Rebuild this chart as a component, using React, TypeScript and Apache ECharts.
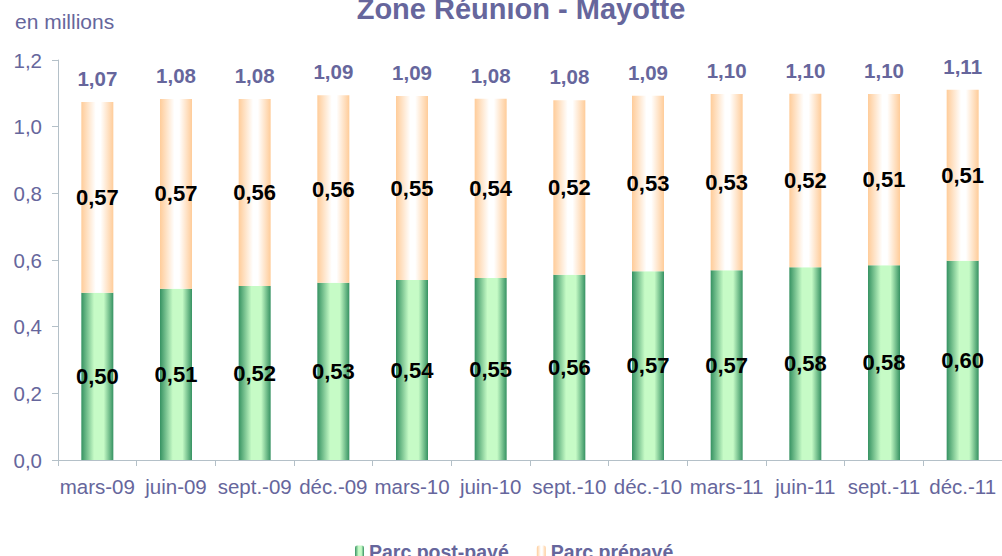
import React, { useEffect, useRef } from "react";
import * as echarts from "echarts";

const categories = ["mars-09", "juin-09", "sept.-09", "déc.-09", "mars-10", "juin-10", "sept.-10", "déc.-10", "mars-11", "juin-11", "sept.-11", "déc.-11"];
const postPaye = [0.502, 0.514, 0.522, 0.532, 0.54, 0.546, 0.556, 0.566, 0.569, 0.578, 0.584, 0.598];
const prepaye = [0.572, 0.569, 0.561, 0.562, 0.552, 0.538, 0.523, 0.527, 0.529, 0.521, 0.514, 0.513];
const yTicks = { min: 0, max: 1.2, interval: 0.2 };

const PURPLE = "#66669c";
const AXIS = "#b4c0c8";
const FONT = "Liberation Sans, Arial, sans-serif";

const fmt2 = (v: number) => (Math.round(v * 100) / 100).toFixed(2).replace(".", ",");

export default function App() {
  const ref = useRef<HTMLDivElement>(null);
  useEffect(() => {
    if (!ref.current) return;
    const chart = echarts.init(ref.current, undefined, { renderer: "svg" });
    const green = new echarts.graphic.LinearGradient(0, 0, 1, 0, [
      { offset: 0, color: "#369262" },
      { offset: 0.4, color: "#c6fbc6" },
      { offset: 0.7, color: "#c6fbc6" },
      { offset: 1, color: "#369262" },
    ]);
    const orange = new echarts.graphic.LinearGradient(0, 0, 1, 0, [
      { offset: 0, color: "#ffcc99" },
      { offset: 0.45, color: "#ffffff" },
      { offset: 0.6, color: "#ffffff" },
      { offset: 1, color: "#ffcc99" },
    ]);
    const inLabel = {
      show: true,
      position: "inside" as const,
      color: "#000",
      fontSize: 22,
      fontWeight: "bold" as const,
      fontFamily: FONT,
      formatter: (p: any) => fmt2(p.value),
    };
    chart.setOption({
      animation: false,
      textStyle: { fontFamily: FONT },
      grid: { left: 58, right: 0, top: 60, bottom: 96, containLabel: false },
      graphic: [
        {
          type: "text",
          left: 15,
          top: 11,
          style: { text: "en millions", fontSize: 21, fontFamily: FONT, fill: PURPLE },
        },
        {
          type: "text",
          x: 521,
          y: -6,
          style: {
            text: "Zone Réunion - Mayotte",
            fontSize: 29,
            fontWeight: "bold",
            fontFamily: FONT,
            fill: PURPLE,
            align: "center",
            verticalAlign: "top",
          },
        },
      ],
      legend: {
        data: ["Parc post-payé", "Parc prépayé"],
        top: 537,
        left: 350,
        itemWidth: 9,
        itemHeight: 13,
        itemGap: 28,
        textStyle: { fontSize: 19.5, fontWeight: "bold", color: PURPLE, fontFamily: FONT },
      },
      xAxis: {
        type: "category",
        data: categories,
        boundaryGap: true,
        axisLine: { lineStyle: { color: AXIS } },
        axisTick: { show: true, length: 6, lineStyle: { color: AXIS } },
        axisLabel: { interval: 0, fontSize: 20.5, color: PURPLE, margin: 16, fontFamily: FONT },
      },
      yAxis: {
        type: "value",
        min: yTicks.min,
        max: yTicks.max,
        interval: yTicks.interval,
        splitLine: { show: false },
        axisLine: { show: true, lineStyle: { color: AXIS } },
        axisTick: { show: true, length: 6, lineStyle: { color: AXIS } },
        axisLabel: {
          fontSize: 20.5,
          color: PURPLE,
          margin: 16,
          fontFamily: FONT,
          formatter: (v: number) => v.toFixed(1).replace(".", ","),
        },
      },
      series: [
        {
          name: "Parc post-payé",
          type: "bar",
          stack: "t",
          barWidth: 32,
          data: postPaye,
          itemStyle: { color: green },
          label: inLabel,
        },
        {
          name: "Parc prépayé",
          type: "bar",
          stack: "t",
          barWidth: 32,
          data: prepaye,
          itemStyle: { color: orange },
          label: inLabel,
        },
        {
          name: "Total",
          type: "bar",
          stack: "t",
          barWidth: 32,
          data: categories.map(() => 0),
          itemStyle: { color: "transparent" },
          label: {
            show: true,
            position: "top",
            distance: 13,
            color: PURPLE,
            fontSize: 20.5,
            fontWeight: "bold",
            fontFamily: FONT,
            formatter: (p: any) => fmt2(postPaye[p.dataIndex] + prepaye[p.dataIndex]),
          },
        },
      ],
    });
    return () => chart.dispose();
  }, []);
  return <div ref={ref} style={{ width: 1002, height: 556, position: "absolute", left: 0, top: 0 }} />;
}
